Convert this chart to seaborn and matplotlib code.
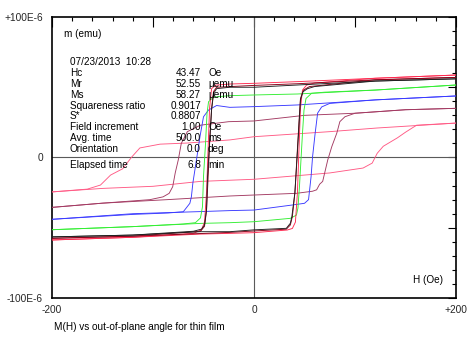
import matplotlib
matplotlib.use("Agg")
import matplotlib.pyplot as plt
import numpy as np
import pandas as pd
import seaborn as sns

sns.set_style("white")
plt.rcParams["font.family"] = ["Liberation Sans", "DejaVu Sans"]

# ---------------------------------------------------------------------------
# Hysteresis branches (H in Oe, m in micro-emu)
# "up" = descending branch (+200 -> -200), "lo" = ascending branch
# ---------------------------------------------------------------------------
red_up_h = [200, 120, 43, 0, -24, -38, -42, -44, -45.5, -47, -49, -52, -60, -120, -200]
red_up_m = [58.7, 56.4, 54, 52.8, 52.3, 51.5, 49, 35, 5, -25, -46, -51.5, -54, -56.8, -58.7]
red_lo_h = [-200, -120, -53, -24, 0, 33, 38, 41, 43, 44.5, 46, 48, 52, 60, 120, 200]
red_lo_m = [-58.7, -56.8, -54.5, -54, -53.5, -51.6, -50.5, -46, -25, 5, 35, 48, 51.5, 53, 56.4, 58.7]

dred_up_h = [200, 120, 43, 0, -37, -40, -42, -44, -45.5, -47, -49, -53, -120, -200]
dred_up_m = [57, 55.3, 52.5, 51.3, 50, 47, 35, 10, -15, -38, -49, -52.5, -56, -57.5]
dred_lo_h = [-200, -120, -24, 32, 36, 38, 40.5, 42.5, 44.5, 46, 49, 55, 120, 200]
dred_lo_m = [-57.5, -56, -53.3, -51, -48, -42, -25, 0, 25, 42, 48, 50.5, 55.3, 57]

black_up_h = [200, 120, 43, 0, -24, -37, -40, -42, -44, -46, -47, -49, -52, -60, -120, -200]
black_up_m = [56, 54.4, 51.6, 50, 50, 49, 45.7, 33.8, 10, -13.7, -37, -48, -51, -52.5, -55.2, -56.5]
black_lo_h = [-200, -120, -53, -24, 0, 32, 36, 37.5, 40.5, 42.5, 44.5, 46, 48.5, 53, 60, 120, 200]
black_lo_m = [-56.5, -55.2, -52.8, -52.8, -51.5, -50.4, -46.8, -42, -25, -1.8, 22, 41, 46.8, 49, 50.5, 54.4, 56]

green_up_h = [200, 120, 43, 0, -24, -40, -45, -46.5, -48, -50, -51, -53, -58, -70, -120, -200]
green_up_m = [51.6, 48, 45.2, 44.5, 44, 43, 39.7, 31.6, 10, -13.7, -35, -43, -46.4, -47.3, -49.2, -51.4]
green_lo_h = [-200, -120, -53, -24, 0, 36, 42, 43.5, 45, 46.5, 48, 49.5, 51.5, 57, 70, 120, 200]
green_lo_m = [-51.4, -49.2, -46.9, -46.4, -45.7, -43.3, -41, -36, -20.8, -1.8, 17.2, 33.8, 42, 45.7, 46.5, 48, 51.6]

blue_up_h = [200, 120, 43, 0, -24, -37, -45, -50, -53.5, -57, -60.5, -62, -63.5, -70, -85, -120, -200]
blue_up_m = [43.8, 41, 37.4, 36.2, 35.7, 37, 33.8, 29, 14.8, -1.8, -18, -28, -32.6, -38.6, -39.5, -40.5, -44]
blue_lo_h = [-200, -120, -53, -24, 0, 38, 50, 54, 56.5, 58, 60.5, 63, 67, 75, 120, 200]
blue_lo_m = [-44, -40, -38.5, -37.8, -37.4, -33.8, -32.6, -30, -13.7, 0.6, 17, 31.6, 36, 38.5, 41, 43.8]

plum_up_h = [200, 150, 100, 50, 0, -25, -53, -66, -72, -75, -78, -80.5, -84, -90, -103, -150, -200]
plum_up_m = [35, 34, 31.5, 30, 26, 25.5, 23, 18.4, 10, -1.8, -11, -20.8, -25.5, -28, -30, -32.5, -35.5]
plum_lo_h = [-200, -150, -86, -24, 0, 42, 58, 62, 65, 68, 73, 77, 82, 85, 90, 100, 150, 200]
plum_lo_m = [-35.5, -32.5, -30, -27.4, -26.7, -25.5, -24, -23, -19, -17, -1.8, 7.7, 17.4, 25.5, 29, 31.5, 34, 35]

pink_up_h = [200, 122, 75, 0, -24, -66, -93, -113, -121, -130, -142, -152, -165, -200]
pink_up_m = [24.5, 21, 18.4, 14.8, 12.5, 10.3, 9.5, 6.8, 0.4, -8, -12.5, -19.6, -22.5, -24.5]
pink_lo_h = [-200, -150, -100, -53, 0, 75, 108, 117, 122, 128, 142, 150, 161, 200]
pink_lo_m = [-24.5, -22, -20.5, -17, -15.5, -11, -7.5, -4, 3, 8, 14, 18, 23, 24.5]

loop_names = ["pink", "plum", "blue", "green", "red", "darkred", "black"]
loop_colors = ["#ff5a85", "#a33a62", "#3a3aff", "#33ee33", "#ff2a50", "#8a0018", "#202020"]

branches = {
    "pink": [(pink_up_h, pink_up_m), (pink_lo_h, pink_lo_m)],
    "plum": [(plum_up_h, plum_up_m), (plum_lo_h, plum_lo_m)],
    "blue": [(blue_up_h, blue_up_m), (blue_lo_h, blue_lo_m)],
    "green": [(green_up_h, green_up_m), (green_lo_h, green_lo_m)],
    "red": [(red_up_h, red_up_m), (red_lo_h, red_lo_m)],
    "darkred": [(dred_up_h, dred_up_m), (dred_lo_h, dred_lo_m)],
    "black": [(black_up_h, black_up_m), (black_lo_h, black_lo_m)],
}

info_labels = ["Hc", "Mr", "Ms", "Squareness ratio", "S*", "Field increment",
               "Avg. time", "Orientation"]
info_values = ["43.47", "52.55", "58.27", "0.9017", "0.8807", "1.00", "500.0", "0.0"]
info_units = ["Oe", "\u00b5emu", "\u00b5emu", "", "", "Oe", "ms", "deg"]

x_tick_vals = [-200, -100, 0, 100, 200]
x_tick_text = ["-200", "", "0", "", "+200"]
y_tick_vals = [-100, -50, 0, 50, 100]
y_tick_text = ["-100E-6", "", "0", "", "+100E-6"]

# ---------------------------------------------------------------------------
rows = []
for name in loop_names:
    for k, (hs, ms) in enumerate(branches[name]):
        for h, m in zip(hs, ms):
            rows.append({"H": h, "M": m, "loop": name, "trace": f"{name}_{k}"})
df = pd.DataFrame(rows)

W, H = 470, 360
fig = plt.figure(figsize=(W / 100, H / 100), dpi=100)
L, R, T, B = 52, 456, 17, 298
ax = fig.add_axes([L / W, 1 - B / H, (R - L) / W, (B - T) / H])

ax.axhline(0, color="#5a5a5a", lw=0.8, zorder=1)
ax.axvline(0, color="#5a5a5a", lw=0.8, zorder=1)

sns.lineplot(data=df, x="H", y="M", hue="loop", units="trace", estimator=None,
             sort=False, hue_order=loop_names,
             palette=dict(zip(loop_names, loop_colors)),
             legend=False, lw=0.65, ax=ax, zorder=3)

ax.set_xlim(-200, 200)
ax.set_ylim(-100, 100)
ax.set_xlabel("")
ax.set_ylabel("")

ax.set_xticks(x_tick_vals)
ax.set_xticklabels(x_tick_text)
ax.set_xticks(np.arange(-200, 201, 20), minor=True)
ax.set_yticks(y_tick_vals)
ax.set_yticklabels(y_tick_text)
ax.set_yticks(np.arange(-100, 101, 10), minor=True)
ax.tick_params(which="both", direction="in", top=True, right=True,
               color="black", width=0.8, labelsize=7.3)
ax.tick_params(axis="x", which="major", length=7.2, pad=5)
ax.tick_params(axis="y", which="major", length=6, pad=6.5)
ax.tick_params(which="minor", length=2.8)
for s in ax.spines.values():
    s.set_color("black")
    s.set_linewidth(1.2)


def ax_x(px):
    return (px - L) / (R - L)


def ax_y(py):
    return (B - py) / (B - T)


tkw = dict(transform=ax.transAxes, fontsize=7.2, va="center", color="black")
ax.text(ax_x(64), ax_y(34), "m (emu)", ha="left", **tkw)
ax.text(ax_x(70), ax_y(62), "07/23/2013  10:28", ha="left", **tkw)
row_y = [72.5, 84, 95, 106, 116.5, 127.5, 138, 149]
for lab, val, unit, py in zip(info_labels, info_values, info_units, row_y):
    ax.text(ax_x(70), ax_y(py), lab, ha="left", **tkw)
    ax.text(ax_x(201), ax_y(py), val, ha="right", **tkw)
    if unit:
        ax.text(ax_x(208), ax_y(py), unit, ha="left", **tkw)
ax.text(ax_x(70), ax_y(165.5), "Elapsed time", ha="left", **tkw)
ax.text(ax_x(201), ax_y(165.5), "6.8", ha="right", **tkw)
ax.text(ax_x(208), ax_y(165.5), "min", ha="left", **tkw)

ax.text(ax_x(443), ax_y(280), "H (Oe)", ha="right", **tkw)

fig.text(54 / W, 1 - 327 / H, "M(H) vs out-of-plane angle for thin film",
         ha="left", va="center", fontsize=7.2, color="black")

fig.savefig("out.png", dpi=100)
